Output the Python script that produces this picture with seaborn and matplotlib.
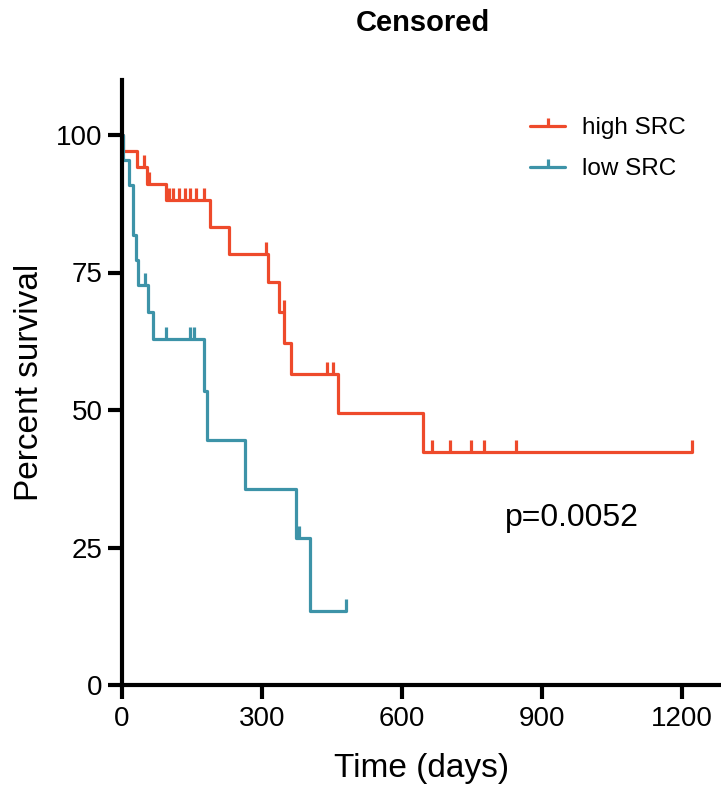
import numpy as np
import pandas as pd
import matplotlib
matplotlib.use("Agg")
import matplotlib.pyplot as plt
from matplotlib.path import Path
from matplotlib.lines import Line2D
import seaborn as sns

# ---- data ----
high_event_days = [2, 32, 53, 94, 189, 230, 312, 336, 348, 361, 462, 644]
high_levels = [97.1, 94.1, 91.1, 88.2, 83.2, 78.3, 73.2, 67.8, 62.2, 56.6, 49.5, 42.4]
high_censor_days = [47, 57, 100, 110, 123, 135, 146, 158, 176, 308, 346,
                    440, 453, 664, 702, 747, 776, 843, 1221]

low_event_days = [3, 15, 24, 31, 35, 56, 67, 176, 181, 264, 372, 403]
low_levels = [95.5, 90.9, 81.8, 77.3, 72.7, 67.9, 63.0, 53.5, 44.6, 35.6, 26.7, 13.4]
low_censor_days = [49, 94, 146, 154, 379, 479]

group_names = ["high SRC", "low SRC"]
group_colors = ["#EE4A2B", "#3D93A8"]
x_ticks = [0, 300, 600, 900, 1200]
y_ticks = [0, 25, 50, 75, 100]
p_text = "p=0.0052"
title = "Censored"


def step_frame(name, ev_days, levels, cens_days):
    end = max(max(cens_days), max(ev_days))
    t = [0] + list(ev_days) + [end]
    s = [100.0] + list(levels) + [levels[-1]]
    return pd.DataFrame({"day": t, "surv": s, "group": name})


def censor_frame(name, ev_days, levels, cens_days):
    ev = np.asarray(ev_days)
    lv = np.concatenate([[100.0], np.asarray(levels)])
    idx = np.searchsorted(ev, np.asarray(cens_days), side="right")
    return pd.DataFrame({"day": cens_days, "surv": lv[idx], "group": name})


curves = pd.concat([
    step_frame(group_names[0], high_event_days, high_levels, high_censor_days),
    step_frame(group_names[1], low_event_days, low_levels, low_censor_days),
])
cens = pd.concat([
    censor_frame(group_names[0], high_event_days, high_levels, high_censor_days),
    censor_frame(group_names[1], low_event_days, low_levels, low_censor_days),
])

sns.set_style("ticks")
plt.rcParams["font.family"] = ["Liberation Sans", "DejaVu Sans"]
plt.rcParams.update({"text.color": "black", "axes.labelcolor": "black",
                     "xtick.color": "black", "ytick.color": "black"})

W, H = 721, 791
fig = plt.figure(figsize=(W / 100, H / 100), dpi=100)
ax = fig.add_axes([122 / W, (H - 685) / H, 1 - 122 / W, (685 - 80) / H])

palette = dict(zip(group_names, group_colors))
up_tick = Path([(0, 0), (0, 1)], [Path.MOVETO, Path.LINETO])

for name in group_names:
    sub = curves[curves.group == name]
    sns.lineplot(data=sub, x="day", y="surv", ax=ax, color=palette[name],
                 drawstyle="steps-post", estimator=None, sort=False,
                 linewidth=2.3, legend=False)
    csub = cens[cens.group == name]
    ax.plot(csub["day"], csub["surv"], linestyle="none", marker=up_tick,
            markersize=17, markeredgewidth=2.3, color=palette[name])

ax.set_xlim(0, 1283)
ax.set_ylim(0, 110)
ax.set_xticks(x_ticks)
ax.set_yticks(y_ticks)
ax.tick_params(axis="both", labelsize=20, width=3, length=10,
               color="black", labelcolor="black")
ax.tick_params(axis="x", pad=5)
ax.tick_params(axis="y", pad=4)
for side in ["top", "right"]:
    ax.spines[side].set_visible(False)
for side in ["left", "bottom"]:
    ax.spines[side].set_linewidth(3)
    ax.spines[side].set_color("black")

ax.set_xlabel("Time (days)", fontsize=24, labelpad=15, color="black")
ax.set_ylabel("Percent survival", fontsize=24, labelpad=8, color="black")
ax.text(964, 30.4, p_text, fontsize=23, ha="center", va="center", color="black")

handles = [Line2D([0], [0], color=c, linewidth=2.3, marker=up_tick,
                  markersize=12, markeredgewidth=2.3) for c in group_colors]
leg = fig.legend(handles, group_names, loc="upper left",
                 bbox_to_anchor=(530 / W, 1 - 117 / H), frameon=False,
                 fontsize=17.5, handlelength=1.45, handletextpad=0.7,
                 labelspacing=0.8, borderpad=0, borderaxespad=0, numpoints=1)
for t in leg.get_texts():
    t.set_color("black")

fig.text(423 / W, 1 - 23 / H, title, fontsize=21, fontweight="bold",
         ha="center", va="center", color="black")

fig.savefig("out.png", dpi=100)
